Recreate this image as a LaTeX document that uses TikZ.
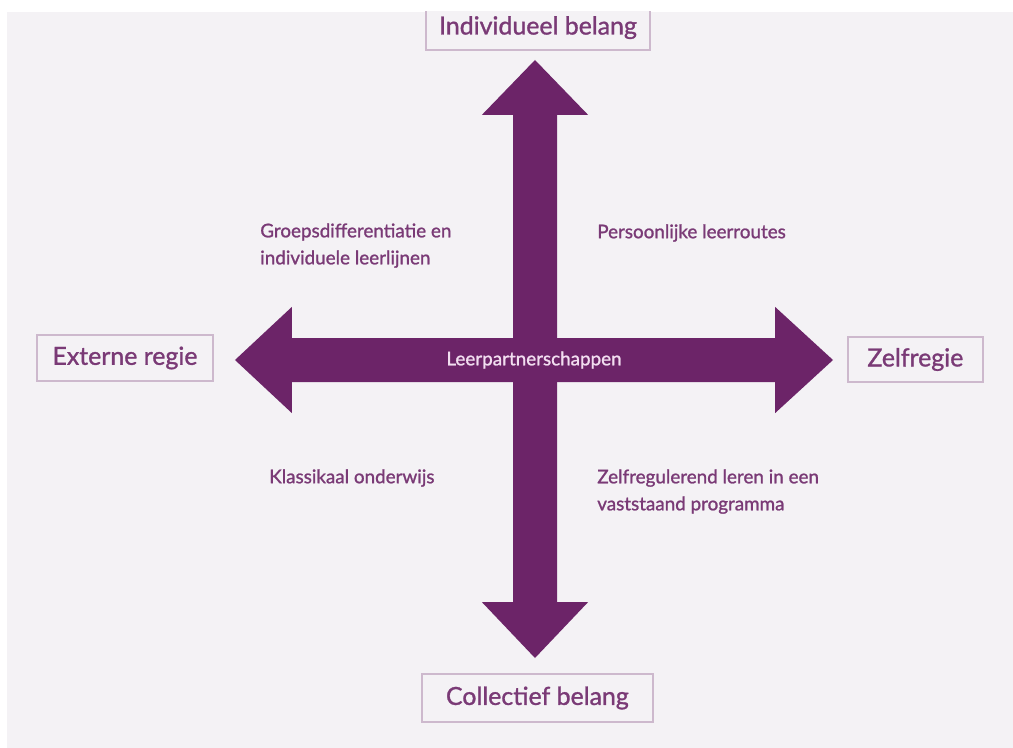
\documentclass[tikz,border=0pt]{standalone}
\usepackage{fontspec}
\setmainfont{Lato}
\newfontfamily\semifont{Lato}[FakeBold=1.2]
\usetikzlibrary{positioning}
\definecolor{arrowcolor}{RGB}{108,36,104}
\definecolor{labelcolor}{RGB}{122,58,118}
\definecolor{boxcolor}{RGB}{205,185,205}
\definecolor{bgcolor}{RGB}{244,242,245}
\definecolor{centercolor}{RGB}{242,222,240}

\begin{document}
\begin{tikzpicture}[
    axisbox/.style={draw=boxcolor, line width=0.9pt, fill=bgcolor, text=labelcolor,
      font=\semifont\fontsize{17.7}{21}\selectfont, inner sep=0pt},
    quadtext/.style={text=labelcolor, font=\semifont\fontsize{13.4}{19.2}\selectfont,
      align=left, anchor=west, inner sep=0pt}
  ]
    \useasboundingbox (-13.375,-9.675) rectangle (11.95,9.0);

    \begin{scope}
    \clip (-13.2,-10) rectangle (12.2,8.7);
    \fill[bgcolor] (-13.2,-10) rectangle (12.2,8.7);

    % horizontal arrow
    \fill[arrowcolor] (-7.5,0) -- (-6.075,1.33) -- (-6.075,0.55) -- (6.0,0.55) -- (6.0,1.33)
      -- (7.45,0) -- (6.0,-1.33) -- (6.0,-0.55) -- (-6.075,-0.55) -- (-6.075,-1.33) -- cycle;

    % vertical arrow
    \fill[arrowcolor] (0,7.5) -- (1.33,6.125) -- (0.55,6.125) -- (0.55,-6.05) -- (1.33,-6.05)
      -- (0,-7.45) -- (-1.33,-6.05) -- (-0.55,-6.05) -- (-0.55,6.125) -- (-1.33,6.125) -- cycle;

    \node[text=centercolor, font=\semifont\fontsize{13.4}{16}\selectfont] (leerpartner) at (-0.025,0) {Leerpartnerschappen};

    % axis ends
    \node[axisbox, minimum width=5.6cm, minimum height=1.125cm] (individueel) at (0.075,8.31) {Individueel belang};
    \node[axisbox, minimum width=5.775cm, minimum height=1.2cm] (collectief) at (0.06,-8.45) {Collectief belang};
    \node[axisbox, minimum width=4.4cm, minimum height=1.15cm] (extern) at (-10.25,0.05) {Externe regie};
    \node[axisbox, minimum width=3.375cm, minimum height=1.125cm] (zelf) at (9.51,0.0125) {Zelfregie};

    % quadrants
    \node[quadtext] (groeps) at (-6.875,2.86) {Groepsdifferentiatie en\\individuele leerlijnen};
    \node[quadtext] (persoonlijk) at (1.55,3.175) {Persoonlijke leerroutes};
    \node[quadtext] (klassikaal) at (-6.65,-2.95) {Klassikaal onderwijs};
    \node[quadtext] (zelfreg) at (1.55,-3.29) {Zelfregulerend leren in een\\vaststaand programma};
    \end{scope}
\end{tikzpicture}
\end{document}
